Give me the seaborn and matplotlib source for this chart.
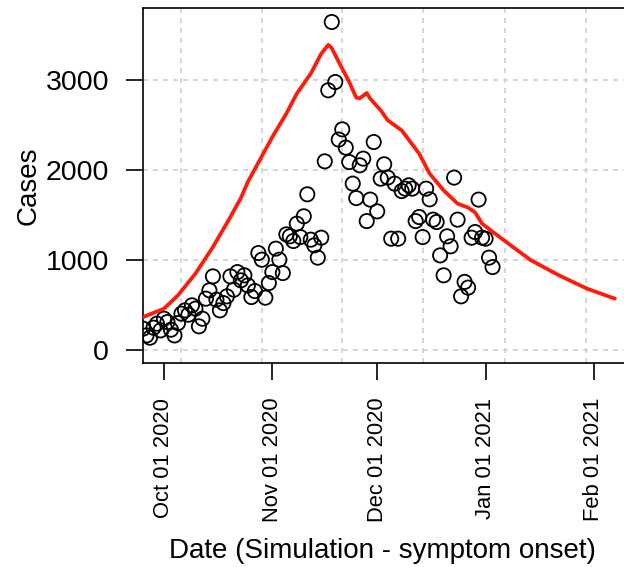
import numpy as np
import pandas as pd
import matplotlib
matplotlib.use('Agg')
import matplotlib.pyplot as plt
import matplotlib.dates as mdates
import seaborn as sns

# ============================================================
# Data
# ============================================================
# daily observed cases, 2020-09-25 .. 2021-01-03
obs_start = '2020-09-25'
obs_cases = [
    236, 161, 136, 247, 292, 217, 347, 310, 225, 161,
    298, 403, 440, 392, 496, 459, 262, 347, 570, 663,
    818, 559, 440, 521, 596, 818, 670, 866, 774, 830,
    718, 588, 655, 1078, 1004, 581, 744, 866, 1127, 1004,
    855, 1286, 1264, 1212, 1405, 1256, 1487, 1732, 1227, 1164,
    1027, 1249, 2099, 2890, 3650, 2982, 2341, 2455, 2252, 2091,
    1851, 1690, 2055, 2129, 1434, 1673, 2314, 1542, 1906, 2066,
    1918, 1238, 1851, 1238, 1768, 1795, 1832, 1795, 1434, 1479,
    1256, 1795, 1676, 1450, 1423, 1052, 830, 1264, 1153, 1918,
    1450, 596, 757, 693, 1249, 1312, 1673, 1249, 1238, 1027,
    922,
]

# simulated curve
sim_dates = [
    '2020-09-25', '2020-10-01', '2020-10-05', '2020-10-10', '2020-10-15',
    '2020-10-20', '2020-10-23', '2020-10-25', '2020-11-01', '2020-11-05',
    '2020-11-08', '2020-11-12', '2020-11-15', '2020-11-17', '2020-11-18',
    '2020-11-20', '2020-11-23', '2020-11-25', '2020-11-26', '2020-11-28',
    '2020-11-29', '2020-12-02', '2020-12-04', '2020-12-08', '2020-12-13',
    '2020-12-16', '2020-12-20', '2020-12-24', '2020-12-27', '2020-12-29',
    '2020-12-31', '2021-01-05', '2021-01-14', '2021-01-22', '2021-01-30',
    '2021-02-07',
]
sim_cases = [
    365, 459, 607, 849, 1145, 1479, 1690, 1870, 2370, 2630,
    2853, 3076, 3298, 3395, 3360, 3205, 2982, 2808, 2800, 2860,
    2797, 2667, 2556, 2444, 2185, 1962, 1776, 1628, 1584, 1530,
    1405, 1256, 997, 830, 682, 570,
]

x_ticks = ['2020-10-01', '2020-11-01', '2020-12-01', '2021-01-01', '2021-02-01']
y_ticks = [0, 1000, 2000, 3000]

obs_df = pd.DataFrame({
    'date': pd.date_range(obs_start, periods=len(obs_cases), freq='D'),
    'cases': obs_cases,
})
sim_df = pd.DataFrame({'date': pd.to_datetime(sim_dates), 'cases': sim_cases})

# ============================================================
# Figure
# ============================================================
sns.set_theme(style='white')
plt.rcParams['font.family'] = ['Liberation Sans', 'DejaVu Sans']
plt.rcParams['text.color'] = 'black'
plt.rcParams['axes.labelcolor'] = 'black'
plt.rcParams['xtick.color'] = 'black'
plt.rcParams['ytick.color'] = 'black'

fig = plt.figure(figsize=(6.24, 5.67), dpi=100)
ax = fig.add_axes([143 / 624, 1 - 363 / 567, 481 / 624, 355 / 567])

oct1 = pd.Timestamp('2020-10-01')
ax.set_xlim(oct1 - pd.Timedelta(days=6.0), oct1 + pd.Timedelta(days=131.6))
ax.set_ylim(-146, 3806)

# grid, as in the original (lines not aligned with the date ticks)
grid_offsets = [4.8, 27.95, 51.0, 74.2, 97.5, 120.6]
for off in grid_offsets:
    ax.axvline(oct1 + pd.Timedelta(days=off), color='#cfcfcf', lw=1.2,
               ls=(0, (3, 3)), zorder=0)
for yv in y_ticks:
    ax.axhline(yv, color='#cfcfcf', lw=1.2, ls=(0, (3, 3)), zorder=0)

sns.scatterplot(data=obs_df, x='date', y='cases', ax=ax, marker='o', s=105,
                facecolor='none', edgecolor='black', linewidth=1.3, zorder=3)
sns.lineplot(data=sim_df, x='date', y='cases', ax=ax, color='#ff1a0a',
             lw=2.7, zorder=4, solid_joinstyle='round', solid_capstyle='round')

ax.set_xticks(pd.to_datetime(x_ticks))
ax.xaxis.set_major_formatter(mdates.DateFormatter('%b %d %Y'))
ax.set_yticks(y_ticks)
ax.tick_params(axis='x', labelrotation=90, labelsize=15.8, length=12,
               width=1.2, pad=13, color='black', labelcolor='black', bottom=True)
ax.tick_params(axis='y', labelsize=20.5, length=12, width=1.2, pad=12.5,
               color='black', labelcolor='black', left=True)
for lab in ax.get_xticklabels():
    lab.set_va('top')
    lab.set_ha('center')

for side in ['left', 'bottom', 'top']:
    ax.spines[side].set_color('black')
    ax.spines[side].set_linewidth(1.2)
ax.spines['right'].set_visible(False)

ax.set_xlabel('Date (Simulation - symptom onset)', fontsize=20, color='black')
ax.set_ylabel('Cases', fontsize=20, color='black')
ax.xaxis.set_label_coords((382 - 143) / 481, (363 - 538) / 355)
ax.yaxis.set_label_coords((42 - 143) / 481, 0.5)

fig.savefig('out.png', dpi=100)
plt.close(fig)
